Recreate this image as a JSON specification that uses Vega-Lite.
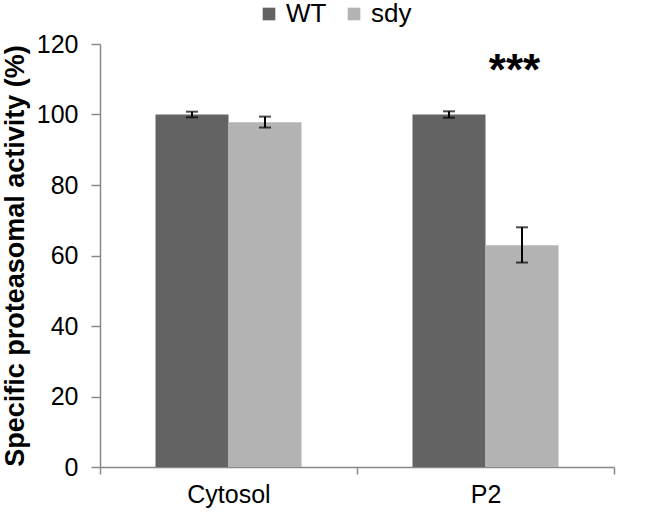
{
  "$schema": "https://vega.github.io/schema/vega-lite/v6.json",
  "width": 514,
  "height": 423,
  "autosize": "none",
  "padding": {"left": 100, "top": 44, "right": 38, "bottom": 45},
  "background": "white",
  "config": {
    "font": "Liberation Sans",
    "view": {"stroke": null},
    "axis": {"labelFont": "Liberation Sans", "titleFont": "Liberation Sans"}
  },
  "datasets": {
    "bars": [
      {"cat": "Cytosol", "group": "WT", "value": 100, "lo": 99.2, "hi": 100.8},
      {"cat": "Cytosol", "group": "sdy", "value": 97.8, "lo": 96.3, "hi": 99.4},
      {"cat": "P2", "group": "WT", "value": 100, "lo": 99.1, "hi": 100.9},
      {"cat": "P2", "group": "sdy", "value": 62.9, "lo": 58.0, "hi": 68.0}
    ],
    "stars": [
      {"cat": "P2", "label": "***", "y": 112}
    ]
  },
  "layer": [
    {
      "data": {"name": "bars"},
      "mark": {"type": "bar"},
      "encoding": {
        "x": {
          "field": "cat", "type": "nominal",
          "scale": {"paddingInner": 0, "paddingOuter": 0},
          "axis": {"title": null, "labelAngle": 0, "labelFontSize": 25, "labelColor": "black", "labelPadding": 8, "domainColor": "#898989", "domainWidth": 1.5, "tickColor": "#898989", "tickSize": 7, "tickWidth": 1.5, "tickBand": "extent"}
        },
        "xOffset": {"field": "group", "type": "nominal", "sort": ["WT", "sdy"], "scale": {"paddingInner": 0, "paddingOuter": 0.76}},
        "y": {
          "field": "value", "type": "quantitative",
          "scale": {"domain": [0, 120]},
          "axis": {"title": "Specific proteasomal activity (%)", "titleFontSize": 27, "titleFontWeight": "bold", "titleColor": "black", "titlePadding": 7, "values": [0, 20, 40, 60, 80, 100, 120], "grid": false, "labelFontSize": 25, "labelColor": "black", "labelPadding": 13, "domainColor": "#898989", "domainWidth": 1.5, "tickColor": "#898989", "tickSize": 9, "tickWidth": 1.5}
        },
        "color": {
          "field": "group", "type": "nominal", "sort": ["WT", "sdy"],
          "scale": {"domain": ["WT", "sdy"], "range": ["#636363", "#b3b3b3"]},
          "legend": {"title": null, "orient": "none", "direction": "horizontal", "legendX": 156, "legendY": -43, "symbolType": "square", "symbolSize": 160, "symbolStrokeWidth": 0, "labelFontSize": 26, "labelColor": "black", "columnPadding": 14, "labelOffset": 4}
        }
      }
    },
    {
      "data": {"name": "bars"},
      "mark": {"type": "rule", "color": "black", "strokeWidth": 2},
      "encoding": {
        "x": {"field": "cat", "type": "nominal"},
        "xOffset": {"field": "group", "type": "nominal", "sort": ["WT", "sdy"]},
        "y": {"field": "lo", "type": "quantitative"},
        "y2": {"field": "hi"}
      }
    },
    {
      "data": {"name": "bars"},
      "mark": {"type": "tick", "color": "black", "thickness": 2, "size": 12, "orient": "horizontal"},
      "encoding": {
        "x": {"field": "cat", "type": "nominal"},
        "xOffset": {"field": "group", "type": "nominal", "sort": ["WT", "sdy"]},
        "y": {"field": "lo", "type": "quantitative"}
      }
    },
    {
      "data": {"name": "bars"},
      "mark": {"type": "tick", "color": "black", "thickness": 2, "size": 12, "orient": "horizontal"},
      "encoding": {
        "x": {"field": "cat", "type": "nominal"},
        "xOffset": {"field": "group", "type": "nominal", "sort": ["WT", "sdy"]},
        "y": {"field": "hi", "type": "quantitative"}
      }
    },
    {
      "data": {"name": "stars"},
      "mark": {"type": "text", "fontSize": 44, "fontWeight": "bold", "color": "black", "dx": 29, "baseline": "middle"},
      "encoding": {
        "x": {"field": "cat", "type": "nominal"},
        "y": {"field": "y", "type": "quantitative"},
        "text": {"field": "label"}
      }
    }
  ]
}
